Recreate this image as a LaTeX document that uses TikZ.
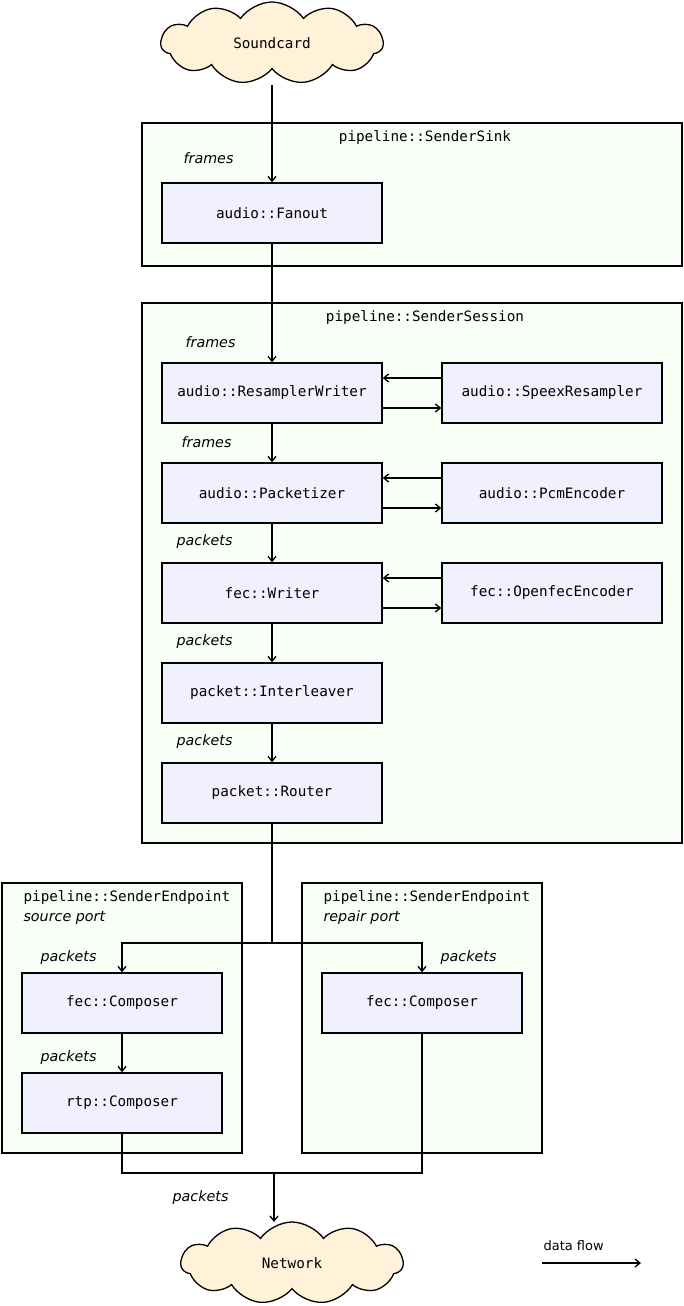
\documentclass[tikz,border=0pt]{standalone}
\usepackage{fontspec}
\setmainfont{DejaVu Sans}
\setmonofont{DejaVu Sans Mono}
\usetikzlibrary{shapes.symbols,arrows.meta}
\definecolor{clus}{HTML}{F7FFF7}
\definecolor{boxc}{HTML}{F0F0FF}
\definecolor{cloudc}{HTML}{FFF2D9}
\begin{document}
\begin{tikzpicture}[x=1pt,y=-1pt,
  every node/.style={font=\fontsize{14.3}{16}\selectfont},
  mono/.style={font=\fontsize{14.3}{16}\selectfont\ttfamily},
  box/.style={draw,line width=1.3pt,fill=boxc,minimum width=220pt,minimum height=60pt,inner sep=0,mono},
  clu/.style={draw,line width=1.3pt,fill=clus},
  lab/.style={font=\fontsize{14.3}{16}\selectfont\itshape,anchor=east},
  cld/.style={cloud,draw,line width=1.3pt,fill=cloudc,cloud puffs=11,cloud puff arc=110,aspect=2.7,minimum width=222pt,minimum height=82pt,inner sep=0,mono},
  fl/.style={line width=1.3pt,-{Straight Barb[length=5pt,width=8pt]}},
  ln/.style={line width=1.3pt}]
\useasboundingbox (0,0) rectangle (684,1306);
% clusters
\draw[clu] (142,123) rectangle (682,266);
\node[mono] (t1) at (425,138) {pipeline::SenderSink};
\draw[clu] (142,303) rectangle (682,843);
\node[mono] (t2) at (425,318) {pipeline::SenderSession};
\draw[clu] (2,883) rectangle (242,1153);
\node[mono,anchor=west] (t3) at (20,898) {pipeline::SenderEndpoint};
\node[font=\fontsize{14.3}{16}\selectfont\itshape,anchor=west] (t3b) at (20,918) {source port};
\draw[clu] (302,883) rectangle (542,1153);
\node[mono,anchor=west] (t4) at (320,898) {pipeline::SenderEndpoint};
\node[font=\fontsize{14.3}{16}\selectfont\itshape,anchor=west] (t4b) at (320,918) {repair port};
% clouds
\node[cld] (sc) at (272,43) {Soundcard};
\node[cld] (net) at (292,1263) {Network};
% boxes
\node[box] (fan) at (272,213) {audio::Fanout};
\node[box] (rw) at (272,393) {audio::ResamplerWriter};
\node[box] (sp) at (552,393) {audio::SpeexResampler};
\node[box] (pk) at (272,493) {audio::Packetizer};
\node[box] (pcm) at (552,493) {audio::PcmEncoder};
\node[box] (fw) at (272,593) {fec::Writer};
\node[box] (ofe) at (552,593) {fec::OpenfecEncoder};
\node[box] (il) at (272,693) {packet::Interleaver};
\node[box] (rt) at (272,793) {packet::Router};
\node[box,minimum width=200pt] (fc1) at (122,1003) {fec::Composer};
\node[box,minimum width=200pt] (rtp) at (122,1103) {rtp::Composer};
\node[box,minimum width=200pt] (fc2) at (422,1003) {fec::Composer};
% edges
\draw[fl] (272,85) -- (fan.north);
\node[lab] at (237,158) {frames};
\draw[fl] (fan.south) -- (rw.north);
\node[lab] at (239,342) {frames};
\foreach \a/\b in {rw/sp,pk/pcm,fw/ofe}{
  \draw[fl] ([yshift=-15pt]\a.east) -- ([yshift=-15pt]\b.west);
  \draw[fl] ([yshift=15pt]\b.west) -- ([yshift=15pt]\a.east);}
\draw[fl] (rw.south) -- (pk.north);
\node[lab] at (235,442) {frames};
\draw[fl] (pk.south) -- (fw.north);
\node[lab] at (236,542) {packets};
\draw[fl] (fw.south) -- (il.north);
\node[lab] at (236,642) {packets};
\draw[fl] (il.south) -- (rt.north);
\node[lab] at (236,742) {packets};
\coordinate (sp1) at (272,943);
\draw[ln] (rt.south) -- (sp1);
\draw[fl] (sp1) -| (fc1.north);
\draw[fl] (sp1) -| (fc2.north);
\node[lab] at (100,958) {packets};
\node[lab] at (500,958) {packets};
\draw[fl] (fc1.south) -- (rtp.north);
\node[lab] at (100,1058) {packets};
\coordinate (j) at (274,1173);
\draw[ln] (rtp.south) |- (j);
\draw[ln] (fc2.south) |- (j);
\draw[fl] (j) -- (274,1222);
\node[lab] at (232,1198) {packets};
% legend
\node[anchor=west] (lg) at (540,1246) {\fontsize{13}{15}\selectfont data flow};
\coordinate (l1) at (542,1263);
\coordinate (l2) at (641,1263);
\draw[fl] (l1) -- (l2);
\end{tikzpicture}
\end{document}
